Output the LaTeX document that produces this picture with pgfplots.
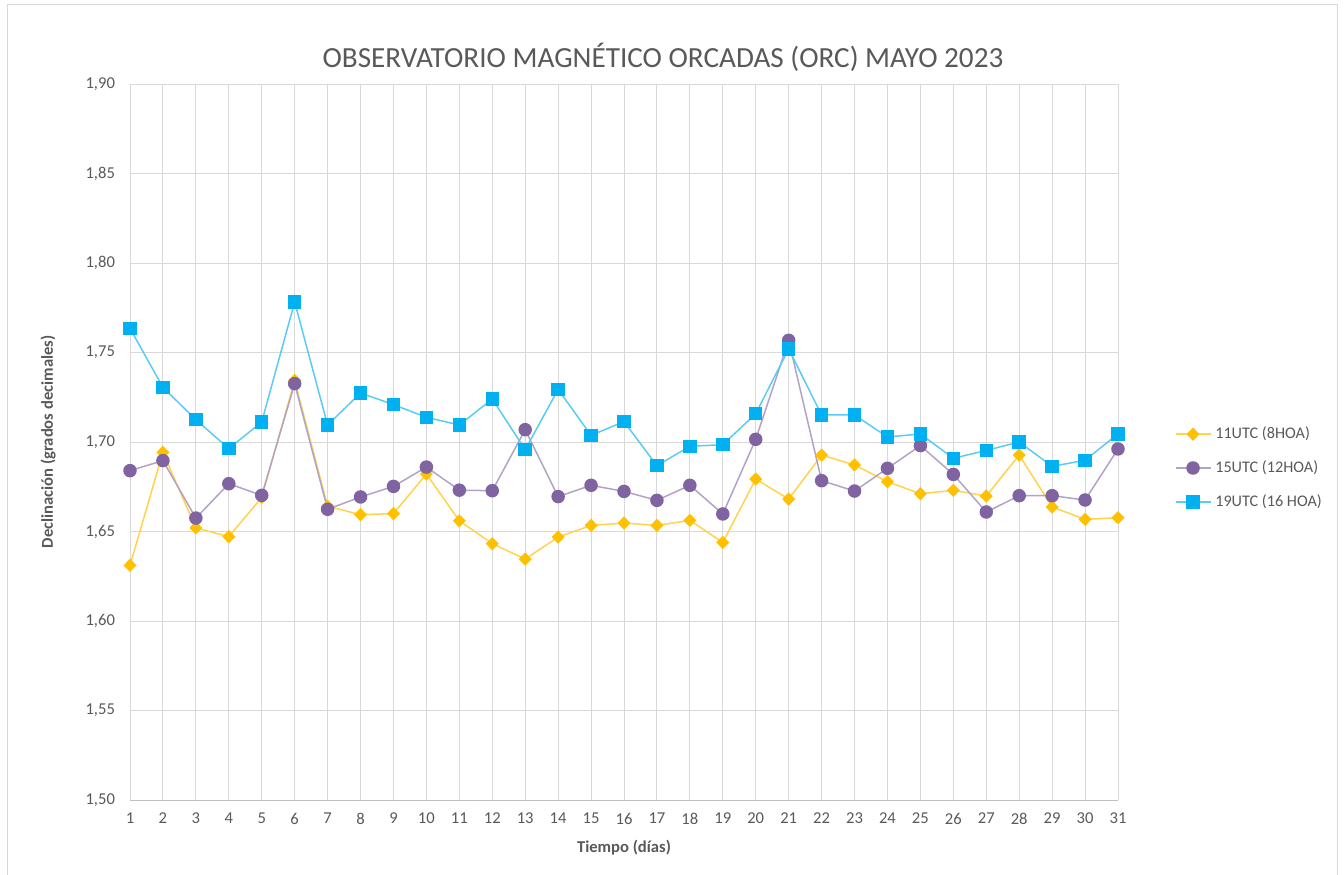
\documentclass[border=0pt]{standalone}
\usepackage{pgfplots}
\pgfplotsset{compat=1.18}
\usepackage{pgfplotstable}
\usepackage{fontspec}
\setmainfont{Carlito}
\definecolor{cy}{HTML}{FFC000}
\definecolor{cp}{HTML}{8064A2}
\definecolor{cb}{HTML}{00B0F0}
\definecolor{txt}{HTML}{595959}
\definecolor{gridc}{HTML}{D9D9D9}
\definecolor{axc}{HTML}{BFBFBF}

\pgfplotstableread{
d y
1 1.6311
2 1.6942
3 1.6520
4 1.6471
5 1.6690
6 1.7344
7 1.6641
8 1.6594
9 1.6600
10 1.6821
11 1.6560
12 1.6432
13 1.6346
14 1.6469
15 1.6534
16 1.6547
17 1.6534
18 1.6562
19 1.6439
20 1.6793
21 1.6681
22 1.6927
23 1.6872
24 1.6778
25 1.6711
26 1.6730
27 1.6698
28 1.6927
29 1.6637
30 1.6568
31 1.6577
}\tyellow

\pgfplotstableread{
d y
1 1.6840
2 1.6896
3 1.6575
4 1.6767
5 1.6702
6 1.7326
7 1.6624
8 1.6693
9 1.6752
10 1.6860
11 1.6731
12 1.6728
13 1.7069
14 1.6695
15 1.6758
16 1.6724
17 1.6674
18 1.6758
19 1.6598
20 1.7015
21 1.7568
22 1.6784
23 1.6726
24 1.6853
25 1.6980
26 1.6819
27 1.6609
28 1.6700
29 1.6700
30 1.6676
31 1.6961
}\tpurple

\pgfplotstableread{
d y
1 1.7635
2 1.7305
3 1.7125
4 1.6963
5 1.7112
6 1.7782
7 1.7095
8 1.7274
9 1.7209
10 1.7138
11 1.7095
12 1.7240
13 1.6957
14 1.7294
15 1.7037
16 1.7114
17 1.6868
18 1.6976
19 1.6985
20 1.7158
21 1.7520
22 1.7151
23 1.7151
24 1.7028
25 1.7045
26 1.6909
27 1.6953
28 1.7000
29 1.6864
30 1.6898
31 1.7045
}\tblue

\begin{document}
\begin{tikzpicture}
\path[use as bounding box] (0,0) rectangle (672pt,437pt);
\draw[gridc, line width=0.5pt] (3.5pt,-1pt) rectangle (668.5pt,434.5pt);
\begin{axis}[
  scale only axis, width=494pt, height=358pt,
  at={(65pt,37pt)}, anchor=south west,
  xmin=1, xmax=31, ymin=1.5, ymax=1.9,
  xtick={1,...,31}, ytick={1.5,1.55,...,1.9},
  grid=major, major grid style={gridc, line width=0.5pt},
  axis x line*=bottom, axis y line*=left,
  x axis line style={-, axc, line width=0.5pt},
  y axis line style={draw=none},
  major tick length=0pt, tick style={draw=none},
  /pgf/number format/assume math mode=true,
  ticklabel style={font=\fontsize{8.3}{10}\selectfont, text=txt},
  yticklabel style={/pgf/number format/.cd, fixed, fixed zerofill, precision=2, use comma, /tikz/.cd, xshift=-4pt},
  xticklabel style={yshift=-3pt},
  legend style={at={(1.051,0.4637)}, anchor=west, draw=none, fill=none,
    font=\fontsize{8.1}{10}\selectfont, text=txt, row sep=5.5pt},
  legend cell align=left,
  legend image code/.code={\draw[mark repeat=2,mark phase=2,#1] plot coordinates {(0pt,0pt) (8.75pt,0pt) (17.5pt,0pt)};},
]
\addplot[color=cy!70!white, line width=0.75pt, mark=diamond*, mark size=2.8pt,
  mark options={solid, fill=cy, draw=cy, xscale=1.3}] table[x=d,y=y] {\tyellow};
\addlegendentry{11UTC (8HOA)}
\addplot[color=cp!60!white, line width=0.75pt, mark=*, mark size=3pt,
  mark options={solid, fill=cp, draw=cp}] table[x=d,y=y] {\tpurple};
\addlegendentry{15UTC (12HOA)}
\addplot[color=cb!65!white, line width=0.75pt, mark=square*, mark size=3pt,
  mark options={solid, fill=cb, draw=cb}] table[x=d,y=y] {\tblue};
\addlegendentry{19UTC (16 HOA)}
\end{axis}
\node[font=\fontsize{14.6}{17}\selectfont, text=txt] at (331.5pt,408.5pt) {OBSERVATORIO MAGNÉTICO ORCADAS (ORC) MAYO 2023};
\node[rotate=90, font=\bfseries\fontsize{8.3}{10}\selectfont, text=txt] at (24pt,216pt) {Declinación (grados decimales)};
\node[font=\bfseries\fontsize{8.3}{10}\selectfont, text=txt] at (312pt,13pt) {Tiempo (días)};
\end{tikzpicture}
\end{document}
